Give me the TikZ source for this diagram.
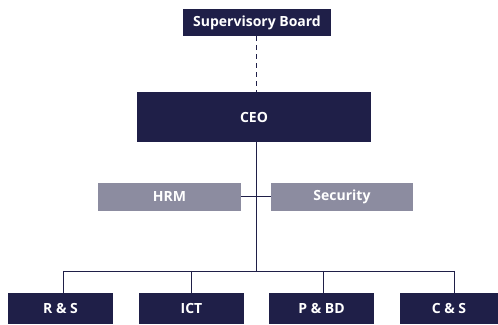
\documentclass[tikz,border=0pt]{standalone}
\usepackage{fontspec}
\setmainfont{Open Sans}
\definecolor{navy}{HTML}{1F1F48}
\definecolor{greybox}{HTML}{8C8CA0}
\begin{document}
\begin{tikzpicture}[x=1pt,y=1pt,
  box/.style={fill=navy,text=white,font=\bfseries\fontsize{14}{16}\selectfont,inner sep=0pt,anchor=center},
  gbox/.style={fill=greybox,text=white,font=\bfseries\fontsize{14}{16}\selectfont,inner sep=0pt,anchor=center},
  conn/.style={draw=navy,line width=0.8pt}]
\useasboundingbox (0,0) rectangle (498,324);
\node[box,minimum width=148pt,minimum height=27pt] (sb) at (257,301.5) {Supervisory Board};
\node[box,minimum width=234pt,minimum height=50pt] (ceo) at (254,207) {CEO};
\node[gbox,minimum width=143pt,minimum height=28pt] (hrm) at (169.5,127) {HRM};
\node[gbox,minimum width=142pt,minimum height=28pt] (sec) at (342,127) {Security};
\node[box,minimum width=105pt,minimum height=31pt] (rs) at (60.5,15.5) {R \& S};
\node[box,minimum width=105pt,minimum height=31pt] (ict) at (191.5,15.5) {ICT};
\node[box,minimum width=105pt,minimum height=31pt] (pbd) at (321.5,15.5) {P \& BD};
\node[box,minimum width=98pt,minimum height=31pt] (cs) at (449,15.5) {C \& S};
\coordinate (bus) at (256,53);
\coordinate (mid) at (256,128);
\coordinate (b1) at (63,53);
\coordinate (b2) at (191,53);
\coordinate (b3) at (323,53);
\coordinate (b4) at (454,53);
\draw[conn,dash pattern=on 5pt off 4pt] (sb.south -| bus) -- (ceo.north -| bus);
\draw[conn] (ceo.south -| bus) -- (bus);
\draw[conn] (hrm.east |- mid) -- (sec.west |- mid);
\draw[conn] (b1) -- (b4);
\draw[conn] (b1) -- (rs.north -| b1);
\draw[conn] (b2) -- (ict.north -| b2);
\draw[conn] (b3) -- (pbd.north -| b3);
\draw[conn] (b4) -- (cs.north -| b4);
\end{tikzpicture}
\end{document}
